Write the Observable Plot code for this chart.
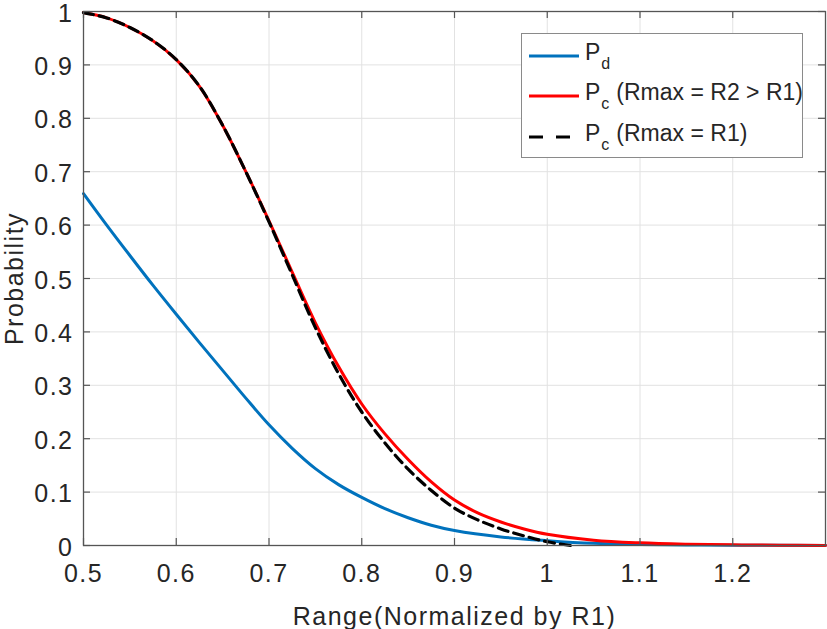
<!DOCTYPE html>
<html>
<head>
<meta charset="utf-8">
<script src="https://cdn.jsdelivr.net/npm/d3@7"></script>
<script src="https://cdn.jsdelivr.net/npm/@observablehq/plot@0.6"></script>
<style>
  body { margin: 0; background: #fff; }
  #wrap { position: relative; width: 827px; height: 629px; }
  #wrap svg text { letter-spacing: 1.5px; font-size: 25px; }
  #legend {
    position: absolute; left: 521px; top: 33px; width: 282px; height: 125px;
    border: 1.5px solid #8a8a8a; background: #fff; box-sizing: border-box;
    font-family: "Liberation Sans", Arial, sans-serif; font-size: 23px; color: #262626;
  }
  .row { position: absolute; left: 6px; height: 30px; display: flex; align-items: center; white-space: nowrap; }
  .row svg { width: 52px; height: 30px; margin-right: 5px; flex: none; }
  .row sub { font-size: 16px; vertical-align: -9px; margin-right: 7px; margin-left: 1px; }
</style>
</head>
<body>
<div id="wrap"></div>
<script>
// ---- data ----
const xPd = [0.5, 0.525, 0.55, 0.575, 0.6, 0.625, 0.65, 0.675, 0.7, 0.725, 0.75, 0.775, 0.8, 0.825, 0.85, 0.875, 0.9, 0.95, 1.0, 1.05, 1.1, 1.15, 1.2, 1.3];
const pd  = [0.659, 0.600, 0.543, 0.487, 0.433, 0.380, 0.328, 0.276, 0.226, 0.182, 0.144, 0.114, 0.090, 0.069, 0.052, 0.038, 0.028, 0.016, 0.009, 0.004, 0.002, 0.001, 0.0005, 0.0001];

const xPcR2 = [0.5, 0.525, 0.55, 0.575, 0.6, 0.625, 0.65, 0.675, 0.7, 0.725, 0.75, 0.775, 0.8, 0.825, 0.85, 0.875, 0.9, 0.925, 0.95, 0.975, 1.0, 1.05, 1.1, 1.15, 1.2, 1.25, 1.3];
const pcR2  = [0.998, 0.988, 0.970, 0.945, 0.910, 0.860, 0.787, 0.700, 0.608, 0.512, 0.417, 0.335, 0.265, 0.209, 0.161, 0.119, 0.085, 0.061, 0.044, 0.031, 0.021, 0.010, 0.005, 0.0025, 0.0012, 0.0005, 0.0002];

const xPcR1 = [0.5, 0.525, 0.55, 0.575, 0.6, 0.625, 0.65, 0.675, 0.7, 0.725, 0.75, 0.775, 0.8, 0.825, 0.85, 0.875, 0.9, 0.925, 0.95, 0.975, 1.0, 1.025];
const pcR1  = [0.998, 0.988, 0.970, 0.945, 0.910, 0.860, 0.787, 0.700, 0.606, 0.507, 0.408, 0.322, 0.250, 0.192, 0.143, 0.103, 0.070, 0.048, 0.031, 0.018, 0.007, 0.0];

const xTicks = [0.5, 0.6, 0.7, 0.8, 0.9, 1.0, 1.1, 1.2];
const yTicks = [0, 0.1, 0.2, 0.3, 0.4, 0.5, 0.6, 0.7, 0.8, 0.9, 1];

const seriesNames = ["Pd", "Pc (Rmax = R2 > R1)", "Pc (Rmax = R1)"];
const seriesColors = ["#0072BD", "#FF0000", "#000000"];

// ---- layout ----
const W = 827, H = 629;
const mL = 83, mR = 2, mT = 11, mB = 84;
const innerW = W - mL - mR, innerH = H - mT - mB;
const tickLen = 7;
const fmt = d => String(+(+d).toFixed(1));
const font = "'Liberation Sans', Arial, sans-serif";

const dPd = xPd.map((x, i) => ({x, y: pd[i]}));
const dR2 = xPcR2.map((x, i) => ({x, y: pcR2[i]}));
const dR1 = xPcR1.map((x, i) => ({x, y: pcR1[i]}));

const chart = Plot.plot({
  width: W, height: H,
  marginLeft: mL, marginRight: mR, marginTop: mT, marginBottom: mB,
  style: {fontFamily: font, color: "#262626", background: "#fff", overflow: "visible"},
  x: {domain: [0.5, 1.3]},
  y: {domain: [0, 1]},
  marks: [
    Plot.gridX(xTicks, {stroke: "#e2e2e2", strokeOpacity: 1, strokeWidth: 1}),
    Plot.gridY(yTicks, {stroke: "#e2e2e2", strokeOpacity: 1, strokeWidth: 1}),
    Plot.line(dPd, {x: "x", y: "y", stroke: seriesColors[0], strokeWidth: 3, curve: "catmull-rom"}),
    Plot.line(dR2, {x: "x", y: "y", stroke: seriesColors[1], strokeWidth: 3, curve: "catmull-rom"}),
    Plot.line(dR1, {x: "x", y: "y", stroke: seriesColors[2], strokeWidth: 3.2, strokeDasharray: "10,6", curve: "catmull-rom"}),
    Plot.tickX(xTicks, {x: d => d, insetTop: innerH - tickLen, stroke: "#555", strokeWidth: 1.2}),
    Plot.tickX(xTicks, {x: d => d, insetBottom: innerH - tickLen, stroke: "#555", strokeWidth: 1.2}),
    Plot.tickY(yTicks, {y: d => d, insetRight: innerW - tickLen, stroke: "#555", strokeWidth: 1.2}),
    Plot.tickY(yTicks, {y: d => d, insetLeft: innerW - tickLen, stroke: "#555", strokeWidth: 1.2}),
    Plot.frame({stroke: "#555", strokeWidth: 1.3}),
    Plot.axisX(xTicks, {tickSize: 0, tickPadding: 19, tickFormat: fmt,
      label: "Range(Normalized by R1)", labelAnchor: "center", labelOffset: 79, labelArrow: "none"}),
    Plot.axisY(yTicks, {tickSize: 0, tickPadding: 10, tickFormat: fmt, dy: 2, label: null}),
    Plot.axisY({ticks: [], tickSize: 0,
      label: "Probability", labelAnchor: "center", labelOffset: 78, labelArrow: "none"})
  ]
});
document.getElementById("wrap").appendChild(chart);

// ---- legend (HTML overlay inside the axes) ----
const legend = document.createElement("div");
legend.id = "legend";
const rowTops = [7, 47, 88];
const labelsHtml = [
  "P<sub>d</sub>",
  "P<sub>c</sub>(Rmax = R2 &gt; R1)",
  "P<sub>c</sub>(Rmax = R1)"
];
seriesNames.forEach((name, i) => {
  const row = document.createElement("div");
  row.className = "row";
  row.style.top = rowTops[i] + "px";
  const dash = i === 2 ? ' stroke-dasharray="14,13"' : "";
  const x2 = i === 2 ? 42 : 51;
  row.innerHTML = `<svg viewBox="0 0 52 30"><line x1="1" y1="15" x2="${x2}" y2="15" stroke="${seriesColors[i]}" stroke-width="3"${dash}/></svg><span>${labelsHtml[i]}</span>`;
  legend.appendChild(row);
});
document.getElementById("wrap").appendChild(legend);
</script>
</body>
</html>
